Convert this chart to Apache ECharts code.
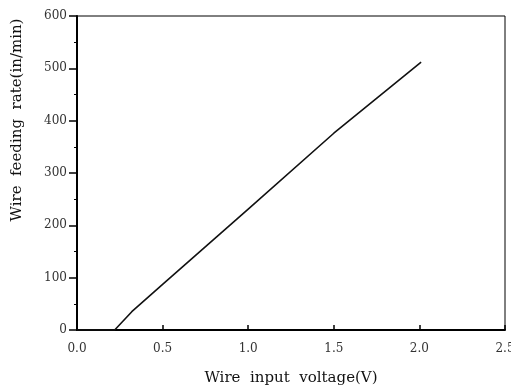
<!DOCTYPE html>
<html>
<head>
<meta charset="utf-8">
<script src="https://cdn.jsdelivr.net/npm/echarts@6/dist/echarts.min.js"></script>
<style>
  html, body { margin: 0; padding: 0; background: #fff; }
  #display { width: 511px; height: 391px; }
</style>
</head>
<body>
<div id="display"></div>
<script>
// wire input voltage (V) vs wire feeding rate (in/min)
var voltage = [0, 0.22, 0.32, 0.5, 1.0, 1.5, 2.01];
var feedRate = [0, 0, 35, 87, 231, 376, 512];
var xTicks = ['0.0', '0.5', '1.0', '1.5', '2.0', '2.5'];
var xTitle = 'Wire  input  voltage(V)';
var yTitle = 'Wire  feeding  rate(in/min)';

var points = [];
for (var i = 0; i < voltage.length; i++) {
    points.push([voltage[i], feedRate[i]]);
}

var serif = '"DejaVu Serif", "Liberation Serif", serif';

var option = {
    animation: false,
    grid: {
        left: 77, right: 6, top: 16, bottom: 61,
        outerBoundsMode: 'none',
        show: true, borderColor: '#000', borderWidth: 1
    },
    graphic: [{
        // y title sits above the middle of the axis in the original
        type: 'text', x: 17, y: 120, rotation: Math.PI / 2,
        style: {
            text: yTitle, fontFamily: serif, fontSize: 15, fill: '#111',
            textAlign: 'center', textVerticalAlign: 'middle'
        }
    }],
    xAxis: {
        type: 'value', min: 0, max: 2.5, interval: 0.5,
        name: xTitle,
        nameLocation: 'middle', nameGap: 41,
        nameTextStyle: {fontFamily: serif, fontSize: 15, color: '#111'},
        axisLine: {lineStyle: {color: '#000', width: 2}},
        axisTick: {inside: true, length: 5, lineStyle: {color: '#000', width: 1.5}},
        axisLabel: {
            fontFamily: serif, fontSize: 12, color: '#333', margin: 13,
            formatter: function (v) { return xTicks[Math.round(v / 0.5)]; }
        },
        splitLine: {show: false}
    },
    yAxis: {
        type: 'value', min: 0, max: 600, interval: 100,
        axisLine: {lineStyle: {color: '#000', width: 2}},
        axisTick: {length: 8, lineStyle: {color: '#000', width: 1.5}},
        minorTick: {show: true, splitNumber: 2, length: 3, lineStyle: {color: '#000', width: 1}},
        axisLabel: {fontFamily: serif, fontSize: 12, color: '#333', margin: 10},
        splitLine: {show: false}
    },
    series: [{
        type: 'line',
        data: points,
        symbol: 'none',
        lineStyle: {color: '#111', width: 1.6}
    }]
};

var myChart = echarts.init(document.getElementById('display'));
myChart.setOption(option);
</script>
</body>
</html>
